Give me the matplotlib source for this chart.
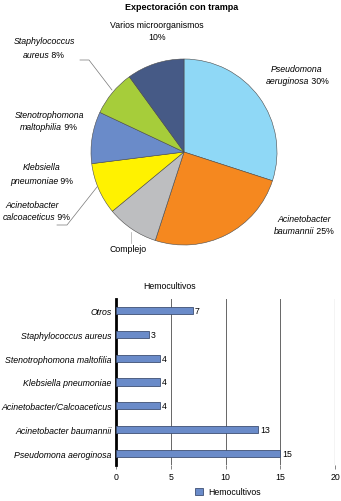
import matplotlib
matplotlib.use("Agg")
import matplotlib.pyplot as plt
from matplotlib.patches import Patch
from matplotlib.lines import Line2D

plt.rcParams['font.family'] = ['Liberation Sans', 'DejaVu Sans']

# ---------------- data ----------------
pie_labels = ["Pseudomona aeruginosa", "Acinetobacter baumannii", "Complejo",
              "Acinetobacter calcoaceticus", "Klebsiella pneumoniae",
              "Stenotrophomona maltophilia", "Staphylococcus aureus",
              "Varios microorganismos"]
pie_values = [30, 25, 9, 9, 9, 8, 10]
pie_colors = ["#8fd8f6", "#f5881f", "#bdbec0", "#fff200", "#6a8bc9", "#a6cd3a", "#465a86"]

bar_categories = ["Pseudomona aeroginosa", "Acinetobacter baumannii",
                  "Acinetobacter/Calcoaceticus", "Klebsiella pneumoniae",
                  "Stenotrophomona maltofilia", "Staphylococcus aureus", "Otros"]
bar_values = [15, 13, 4, 4, 4, 3, 7]
x_ticks = [0, 5, 10, 15, 20]

W, H = 341, 502
fig = plt.figure(figsize=(W / 100, H / 100), dpi=100)
FS = 6.3

def fx(px):
    return px / W

def fy(py):
    return 1 - py / H

# ---------------- pie ----------------
r_px = 93
cx, cy = 184, 153
ax1 = fig.add_axes([fx(cx - r_px), fy(cy + r_px), 2 * r_px / W, 2 * r_px / H])
ax1.pie(pie_values, colors=pie_colors, startangle=90, counterclock=False,
        wedgeprops=dict(edgecolor="#4a4a4a", linewidth=0.4))
ax1.set_xlim(-1, 1)
ax1.set_ylim(-1, 1)
ax1.set_aspect('auto')
ax1.axis('off')

fig.text(fx(182), fy(8), "Expectoración con trampa", ha='center', va='center',
         fontsize=6.5, fontweight='bold')

renderer = fig.canvas.get_renderer()

def mixed_line(x_px, y_px, parts, ha='right'):
    texts = []
    widths = []
    for t, it in parts:
        tt = fig.text(0, 0, t, fontsize=FS, style='italic' if it else 'normal',
                      va='center', ha='left')
        bb = tt.get_window_extent(renderer)
        texts.append(tt)
        widths.append(bb.width)
    total = sum(widths)
    if ha == 'right':
        start = x_px - total
    elif ha == 'center':
        start = x_px - total / 2
    else:
        start = x_px
    xpos = start
    for tt, w in zip(texts, widths):
        tt.set_position((fx(xpos), fy(y_px)))
        xpos += w

fig.text(fx(157), fy(26), "Varios microorganismos", ha='center', va='center', fontsize=FS)
fig.text(fx(157), fy(38), "10%", ha='center', va='center', fontsize=FS)

mixed_line(75, 42, [("Staphylococcus", True)])
mixed_line(64, 55, [("aureus", True), (" 8%", False)])

mixed_line(84, 115, [("Stenotrophomona", True)])
mixed_line(77, 127, [("maltophilia", True), (" 9%", False)])

mixed_line(60, 168, [("Klebsiella", True)])
mixed_line(73, 181, [("pneumoniae", True), (" 9%", False)])

mixed_line(59, 205, [("Acinetobacter", True)])
mixed_line(70, 217, [("calcoaceticus", True), (" 9%", False)])

mixed_line(297, 70, [("Pseudomona", True)], ha='center')
mixed_line(297, 82, [("aeruginosa", True), (" 30%", False)], ha='center')

mixed_line(304, 219, [("Acinetobacter", True)], ha='center')
mixed_line(304, 232, [("baumannii", True), (" 25%", False)], ha='center')

fig.text(fx(128), fy(250), "Complejo", ha='center', va='center', fontsize=FS)

def leader(pts, color="#777777"):
    xs = [fx(p[0]) for p in pts]
    ys = [fy(p[1]) for p in pts]
    fig.add_artist(Line2D(xs, ys, color=color, linewidth=0.5, transform=fig.transFigure))

leader([(80, 61), (89, 61), (112, 91)])
leader([(57, 226), (67, 226), (97, 188)])
leader([(131, 233), (131, 244)], color="#aaaaaa")

# ---------------- bars ----------------
ax2 = fig.add_axes([fx(116), fy(466), fx(335) - fx(116), fy(300) - fy(466)])
ypos = list(range(len(bar_categories)))
ax2.barh(ypos, bar_values, height=0.3, color="#6a8bc9", edgecolor="#3e4f73",
         linewidth=0.6, zorder=3)
for y, v in zip(ypos, bar_values):
    ax2.text(v + 0.15, y, str(v), va='center', ha='left', fontsize=FS)
ax2.set_xlim(0, 20)
ax2.set_ylim(-0.5, len(bar_categories) - 0.5)
ax2.set_yticks(ypos)
ax2.set_yticklabels(bar_categories, fontsize=FS, style='italic')
ax2.set_xticks(x_ticks)
ax2.set_xticklabels([str(t) for t in x_ticks], fontsize=FS)
ax2.tick_params(axis='y', length=0, pad=3)
ax2.tick_params(axis='x', length=3, width=0.5, color="#555555", pad=2)
for s in ['top', 'right', 'bottom']:
    ax2.spines[s].set_visible(False)
ax2.spines['left'].set_linewidth(2.0)
ax2.spines['left'].set_color('black')
for t in x_ticks[1:-1]:
    ax2.axvline(t, color="#666666", linewidth=0.7, zorder=1)
ax2.axvline(20, color="#aaaaaa", linewidth=0.9, zorder=1)
ax2.set_title("Hemocultivos", fontsize=FS, pad=8, x=0.245)

fig.legend(handles=[Patch(facecolor="#6a8bc9", edgecolor="#3e4f73", linewidth=0.6,
                          label="Hemocultivos")],
           loc='center', bbox_to_anchor=(fx(228), fy(493)), frameon=False,
           fontsize=FS, handlelength=1.0, handleheight=1.0, handletextpad=0.6)

fig.savefig("out.png", dpi=100)
